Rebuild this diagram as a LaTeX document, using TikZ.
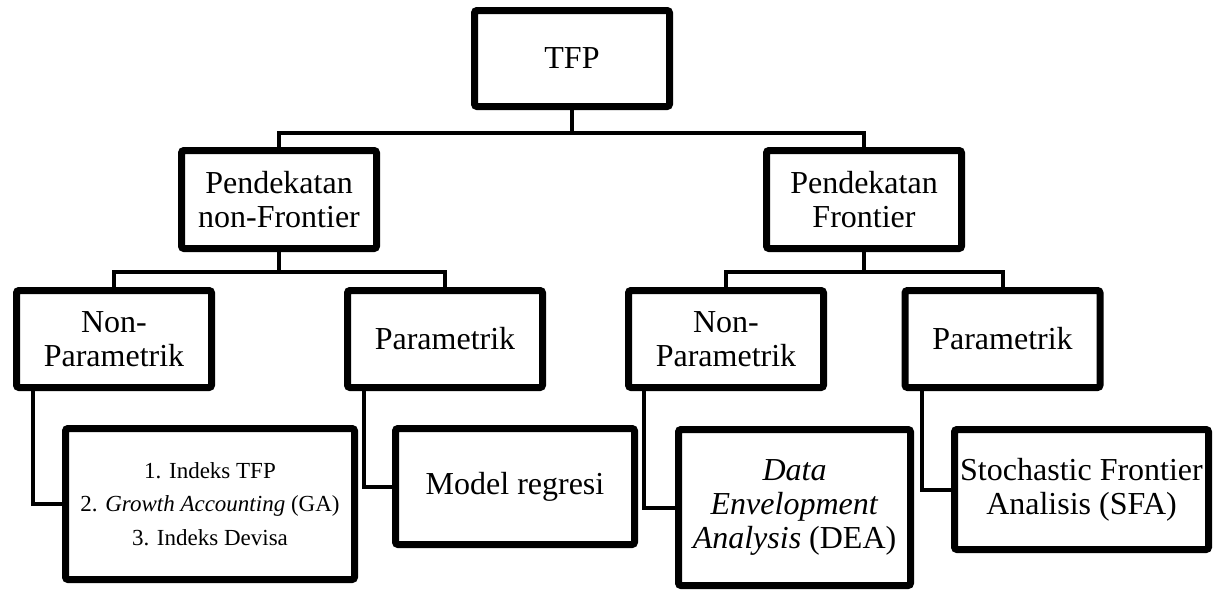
\documentclass[tikz,border=0pt]{standalone}
\usepackage{fontspec}
\setmainfont{Liberation Serif}
\usetikzlibrary{backgrounds}
\begin{document}
\begin{tikzpicture}[x=1pt,y=-1pt,
  box/.style={draw=black, line width=7pt, fill=white, rounded corners=2.5pt,
    align=center, inner sep=0pt, font=\fontsize{32}{34}\selectfont},
  smalltext/.style={font=\fontsize{23}{33.5}\selectfont},
  link/.style={line width=4pt, line join=miter}]
\useasboundingbox (0,0) rectangle (1217,592);
% level 1
\node[box, minimum width=195pt, minimum height=96pt] (tfp) at (572,58.5) {TFP};
% level 2
\node[box, minimum width=195pt, minimum height=98pt] (nonF) at (279,199.5) {Pendekatan\\non-Frontier};
\node[box, minimum width=195pt, minimum height=98pt] (F) at (864,199.5) {Pendekatan\\Frontier};
% level 3
\node[box, minimum width=195pt, minimum height=97pt] (np1) at (114,339) {Non-\\Parametrik};
\node[box, minimum width=195pt, minimum height=97pt] (p1) at (445,339) {Parametrik};
\node[box, minimum width=195pt, minimum height=97pt] (np2) at (726,339) {Non-\\Parametrik};
\node[box, minimum width=195pt, minimum height=97pt] (p2) at (1002.5,339) {Parametrik};
% level 4
\node[box, smalltext, minimum width=289pt, minimum height=151pt] (idx) at (210,504)
  {1. Indeks TFP\\2. \textit{Growth Accounting} (GA)\\3. Indeks Devisa};
\node[box, minimum width=239pt, minimum height=116pt] (reg) at (515,486.5) {Model regresi};
\node[box, minimum width=232pt, minimum height=156pt] (dea) at (794.5,507.5)
  {\textit{Data}\\\textit{Envelopment}\\\textit{Analysis} (DEA)};
\node[box, minimum width=254pt, minimum height=120pt] (sfa) at (1081.5,489.5)
  {Stochastic Frontier\\Analisis (SFA)};
% connectors
\begin{scope}[on background layer]
\draw[link] (tfp.south) -- ++(0,22.5) -| (nonF.north);
\draw[link] (tfp.south) -- ++(0,22.5) -| (F.north);
\draw[link] (nonF.south) -- ++(0,19.5) -| (np1.north);
\draw[link] (nonF.south) -- ++(0,19.5) -| (p1.north);
\draw[link] (F.south) -- ++(0,19.5) -| (np2.north);
\draw[link] (F.south) -- ++(0,19.5) -| (p2.north);
\draw[link] ([xshift=20pt]np1.south west) |- (idx.west);
\draw[link] ([xshift=20pt]p1.south west) |- (reg.west);
\draw[link] ([xshift=19pt]np2.south west) |- (dea.west);
\draw[link] ([xshift=20pt]p2.south west) |- (sfa.west);
\end{scope}
\end{tikzpicture}
\end{document}
